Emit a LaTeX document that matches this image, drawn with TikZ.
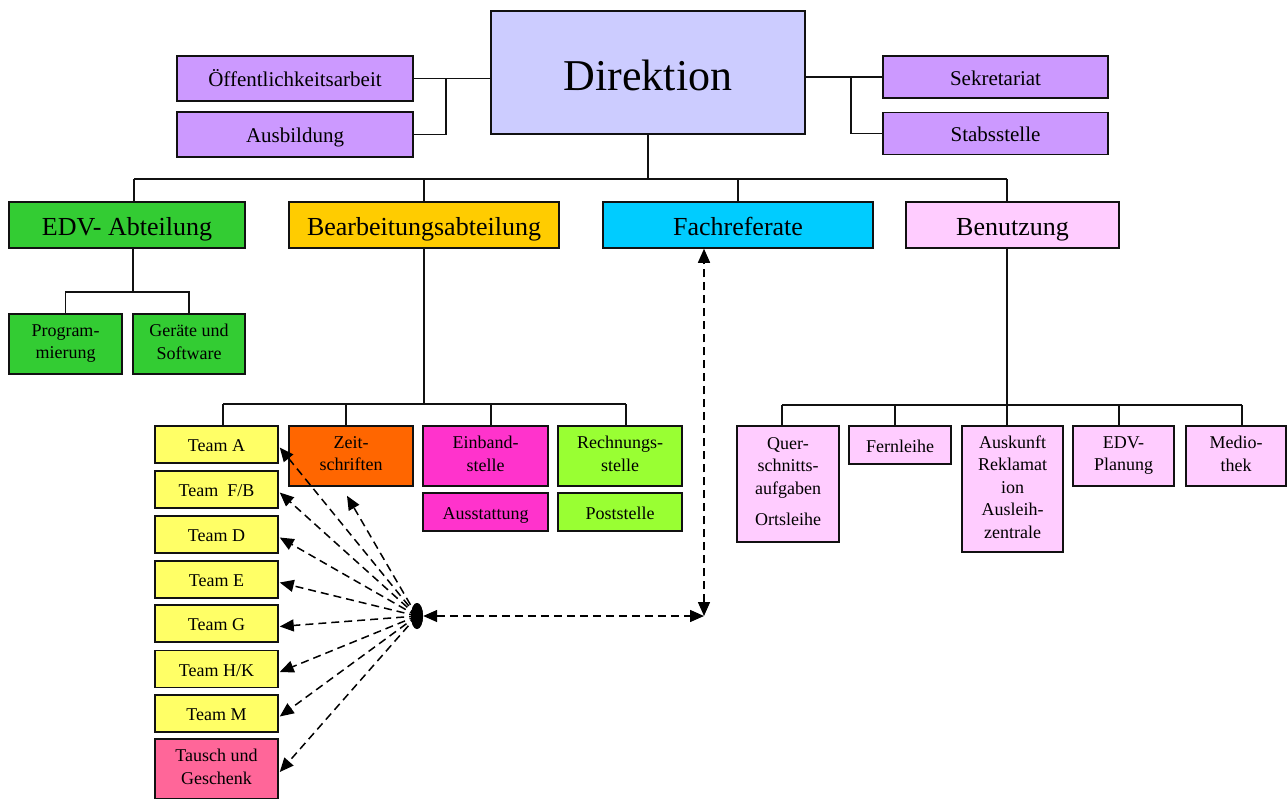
\documentclass[tikz,border=0pt]{standalone}
\usepackage{fontspec}
\setmainfont{Liberation Serif}
\usetikzlibrary{arrows.meta,calc,shapes.geometric}

\definecolor{cDirek}{HTML}{CCCCFF}
\definecolor{cStab}{HTML}{CC99FF}
\definecolor{cEdv}{HTML}{33CC33}
\definecolor{cBearb}{HTML}{FFCC00}
\definecolor{cFach}{HTML}{00CCFF}
\definecolor{cBenutz}{HTML}{FFCCFF}
\definecolor{cZeit}{HTML}{FF6600}
\definecolor{cEinb}{HTML}{FF33CC}
\definecolor{cRech}{HTML}{99FF33}
\definecolor{cTeam}{HTML}{FFFF66}
\definecolor{cTausch}{HTML}{FF6699}
\definecolor{cLine}{HTML}{111111}

\newcommand\fsHuge{\fontsize{44}{50}\selectfont}
\newcommand\fsDept{\fontsize{26}{30}\selectfont}
\newcommand\fsSide{\fontsize{21}{25}\selectfont}
\newcommand\fsUnit{\fontsize{18}{22.5}\selectfont}
% strut deeper than any descender, so every label sits at the same height
\newcommand\nstrut{\rule[-0.25em]{0pt}{1.3em}}

\tikzset{
  box/.style={draw=cLine, line width=1.5pt, inner sep=0pt, align=center, text=black,
    execute at begin node=\nstrut, execute at end node=\nstrut},
  side/.style={box, fill=cStab, font=\fsSide},
  dept/.style={box, minimum height=46, font=\fsDept},
  unit/.style={box, font=\fsUnit},
  team/.style={unit, fill=cTeam, minimum width=123, minimum height=37},
  conn/.style={draw=cLine, line width=1.6pt},
  darr/.style={draw=black, line width=1.5pt, dash pattern=on 8pt off 5pt,
    -{Triangle[length=14pt,width=12pt]}},
  ddarr/.style={draw=black, line width=1.5pt, dash pattern=on 8pt off 5pt,
    {Triangle[length=14pt,width=12pt]}-{Triangle[length=14pt,width=12pt]}},
  hubstyle/.style={ellipse, fill=black, inner sep=0pt, minimum width=12, minimum height=26}
}

\begin{document}
\begin{tikzpicture}[x=1pt,y=-1pt]
\useasboundingbox (0,0) rectangle (1287,798);

% --- management level ---
\node[box, fill=cDirek, minimum width=314, minimum height=123, font=\fsHuge] (direk) at (648,72.5) {Direktion};
\node[side, minimum width=236, minimum height=45] (oeff) at (295,78.5) {Öffentlichkeitsarbeit};
\node[side, minimum width=236, minimum height=45] (ausb) at (295,134.5) {Ausbildung};
\node[side, minimum width=225, minimum height=42] (sekr) at (995.5,77) {Sekretariat};
\node[side, minimum width=225, minimum height=42] (stab) at (995.5,133.5) {Stabsstelle};

\draw[conn] (oeff.east) -- (oeff.east -| direk.west);
\coordinate (lj) at (446,78.5);
\draw[conn] (ausb.east) -| (lj);
\draw[conn] (direk.east |- sekr.west) -- (sekr.west);
\coordinate (rj) at (851,77);
\draw[conn] (stab.west) -| (rj);

% --- departments ---
\node[dept, fill=cEdv, minimum width=236] (edv) at (127,225) {EDV- Abteilung};
\node[dept, fill=cBearb, minimum width=270] (bearb) at (424,225) {Bearbeitungsabteilung};
\node[dept, fill=cFach, minimum width=270] (fach) at (738,225) {Fachreferate};
\node[dept, fill=cBenutz, minimum width=213] (benutz) at (1012.5,225) {Benutzung};

\coordinate (b1) at (134,179);
\coordinate (b2) at (424,179);
\coordinate (b3) at (738,179);
\coordinate (b4) at (1007,179);
\draw[conn] (direk.south) -- (direk.south |- b1);
\draw[conn] (b1) -- (b4);
\foreach \b/\n in {b1/edv,b2/bearb,b3/fach,b4/benutz}
  \draw[conn] (\b) -- (\b |- \n.north);

% --- EDV units ---
\node[unit, fill=cEdv, minimum width=113, minimum height=60] (prog) at (65.5,344) {Program-\\mierung};
\node[unit, fill=cEdv, minimum width=112, minimum height=60] (geraete) at (189,344) {Geräte und\\Software};
\coordinate (e0) at (133,292);
\draw[conn] (e0 |- edv.south) -- (e0);
\draw[conn] (prog.north) |- (e0) -| (geraete.north);

% --- Bearbeitung units ---
\node[team] (ta) at (216.5,444.5) {Team A};
\node[team] (tfb) at (216.5,489.5) {Team\ \ F/B};
\node[team] (td) at (216.5,534.5) {Team D};
\node[team] (te) at (216.5,579.5) {Team E};
\node[team] (tg) at (216.5,623.5) {Team G};
\node[team] (thk) at (216.5,669) {Team H/K};
\node[team] (tm) at (216.5,713.5) {Team M};
\node[unit, fill=cTausch, minimum width=123, minimum height=60] (tausch) at (216.5,769) {Tausch und\\Geschenk};

\node[unit, fill=cZeit, minimum width=124, minimum height=60] (zeit) at (351,456) {Zeit-\\schriften};
\node[unit, fill=cEinb, minimum width=125, minimum height=60] (einb) at (485.5,456) {Einband-\\stelle};
\node[unit, fill=cRech, minimum width=124, minimum height=60] (rech) at (620,456) {Rechnungs-\\stelle};
\node[unit, fill=cEinb, minimum width=125, minimum height=38] (ausst) at (485.5,512) {Ausstattung};
\node[unit, fill=cRech, minimum width=124, minimum height=38] (post) at (620,512) {Poststelle};

\coordinate (k1) at (223,404);
\coordinate (k2) at (346,404);
\coordinate (k3) at (491,404);
\coordinate (k4) at (626,404);
\draw[conn] (bearb.south) -- (bearb.south |- k1);
\draw[conn] (k1) -- (k4);
\foreach \k/\n in {k1/ta,k2/zeit,k3/einb,k4/rech}
  \draw[conn] (\k) -- (\k |- \n.north);

% --- Benutzung units ---
\node[unit, fill=cBenutz, minimum width=102, minimum height=116] (quer) at (788,484)
  {Quer-\\schnitts-\\aufgaben\\[9pt]Ortsleihe};
\node[unit, fill=cBenutz, minimum width=102, minimum height=38] (fern) at (900,445) {Fernleihe};
\node[unit, fill=cBenutz, minimum width=101, minimum height=126] (ausk) at (1012.5,489)
  {Auskunft\\Reklamat\\ion\\Ausleih-\\zentrale};
\node[unit, fill=cBenutz, minimum width=101, minimum height=60] (edvp) at (1123.5,456) {EDV-\\Planung};
\node[unit, fill=cBenutz, minimum width=100, minimum height=60] (medio) at (1236,456) {Medio-\\thek};

\coordinate (n1) at (782,405);
\coordinate (n2) at (895,405);
\coordinate (n3) at (1007,405);
\coordinate (n4) at (1119,405);
\coordinate (n5) at (1242,405);
\draw[conn] (n3 |- benutz.south) -- (n3);
\draw[conn] (n1) -- (n5);
\foreach \k/\n in {n1/quer,n2/fern,n3/ausk,n4/edvp,n5/medio}
  \draw[conn] (\k) -- (\k |- \n.north);

% --- coordination arrows ---
\node[hubstyle] (hub) at (417,616) {};
\foreach \t in {ta,tfb,td,te,tg,thk,tm,tausch}
  \draw[darr] (hub.center) -- ($(\t.east)+(1,3)$);
\draw[darr] (hub.center) -- ($(zeit.south)+(-4,9)$);
\node[hubstyle] at (hub) {};
\coordinate (corner) at (704,616);
\draw[ddarr] (hub.east) -- (corner);
\draw[ddarr] (corner) -- (corner |- fach.south);
\end{tikzpicture}
\end{document}
